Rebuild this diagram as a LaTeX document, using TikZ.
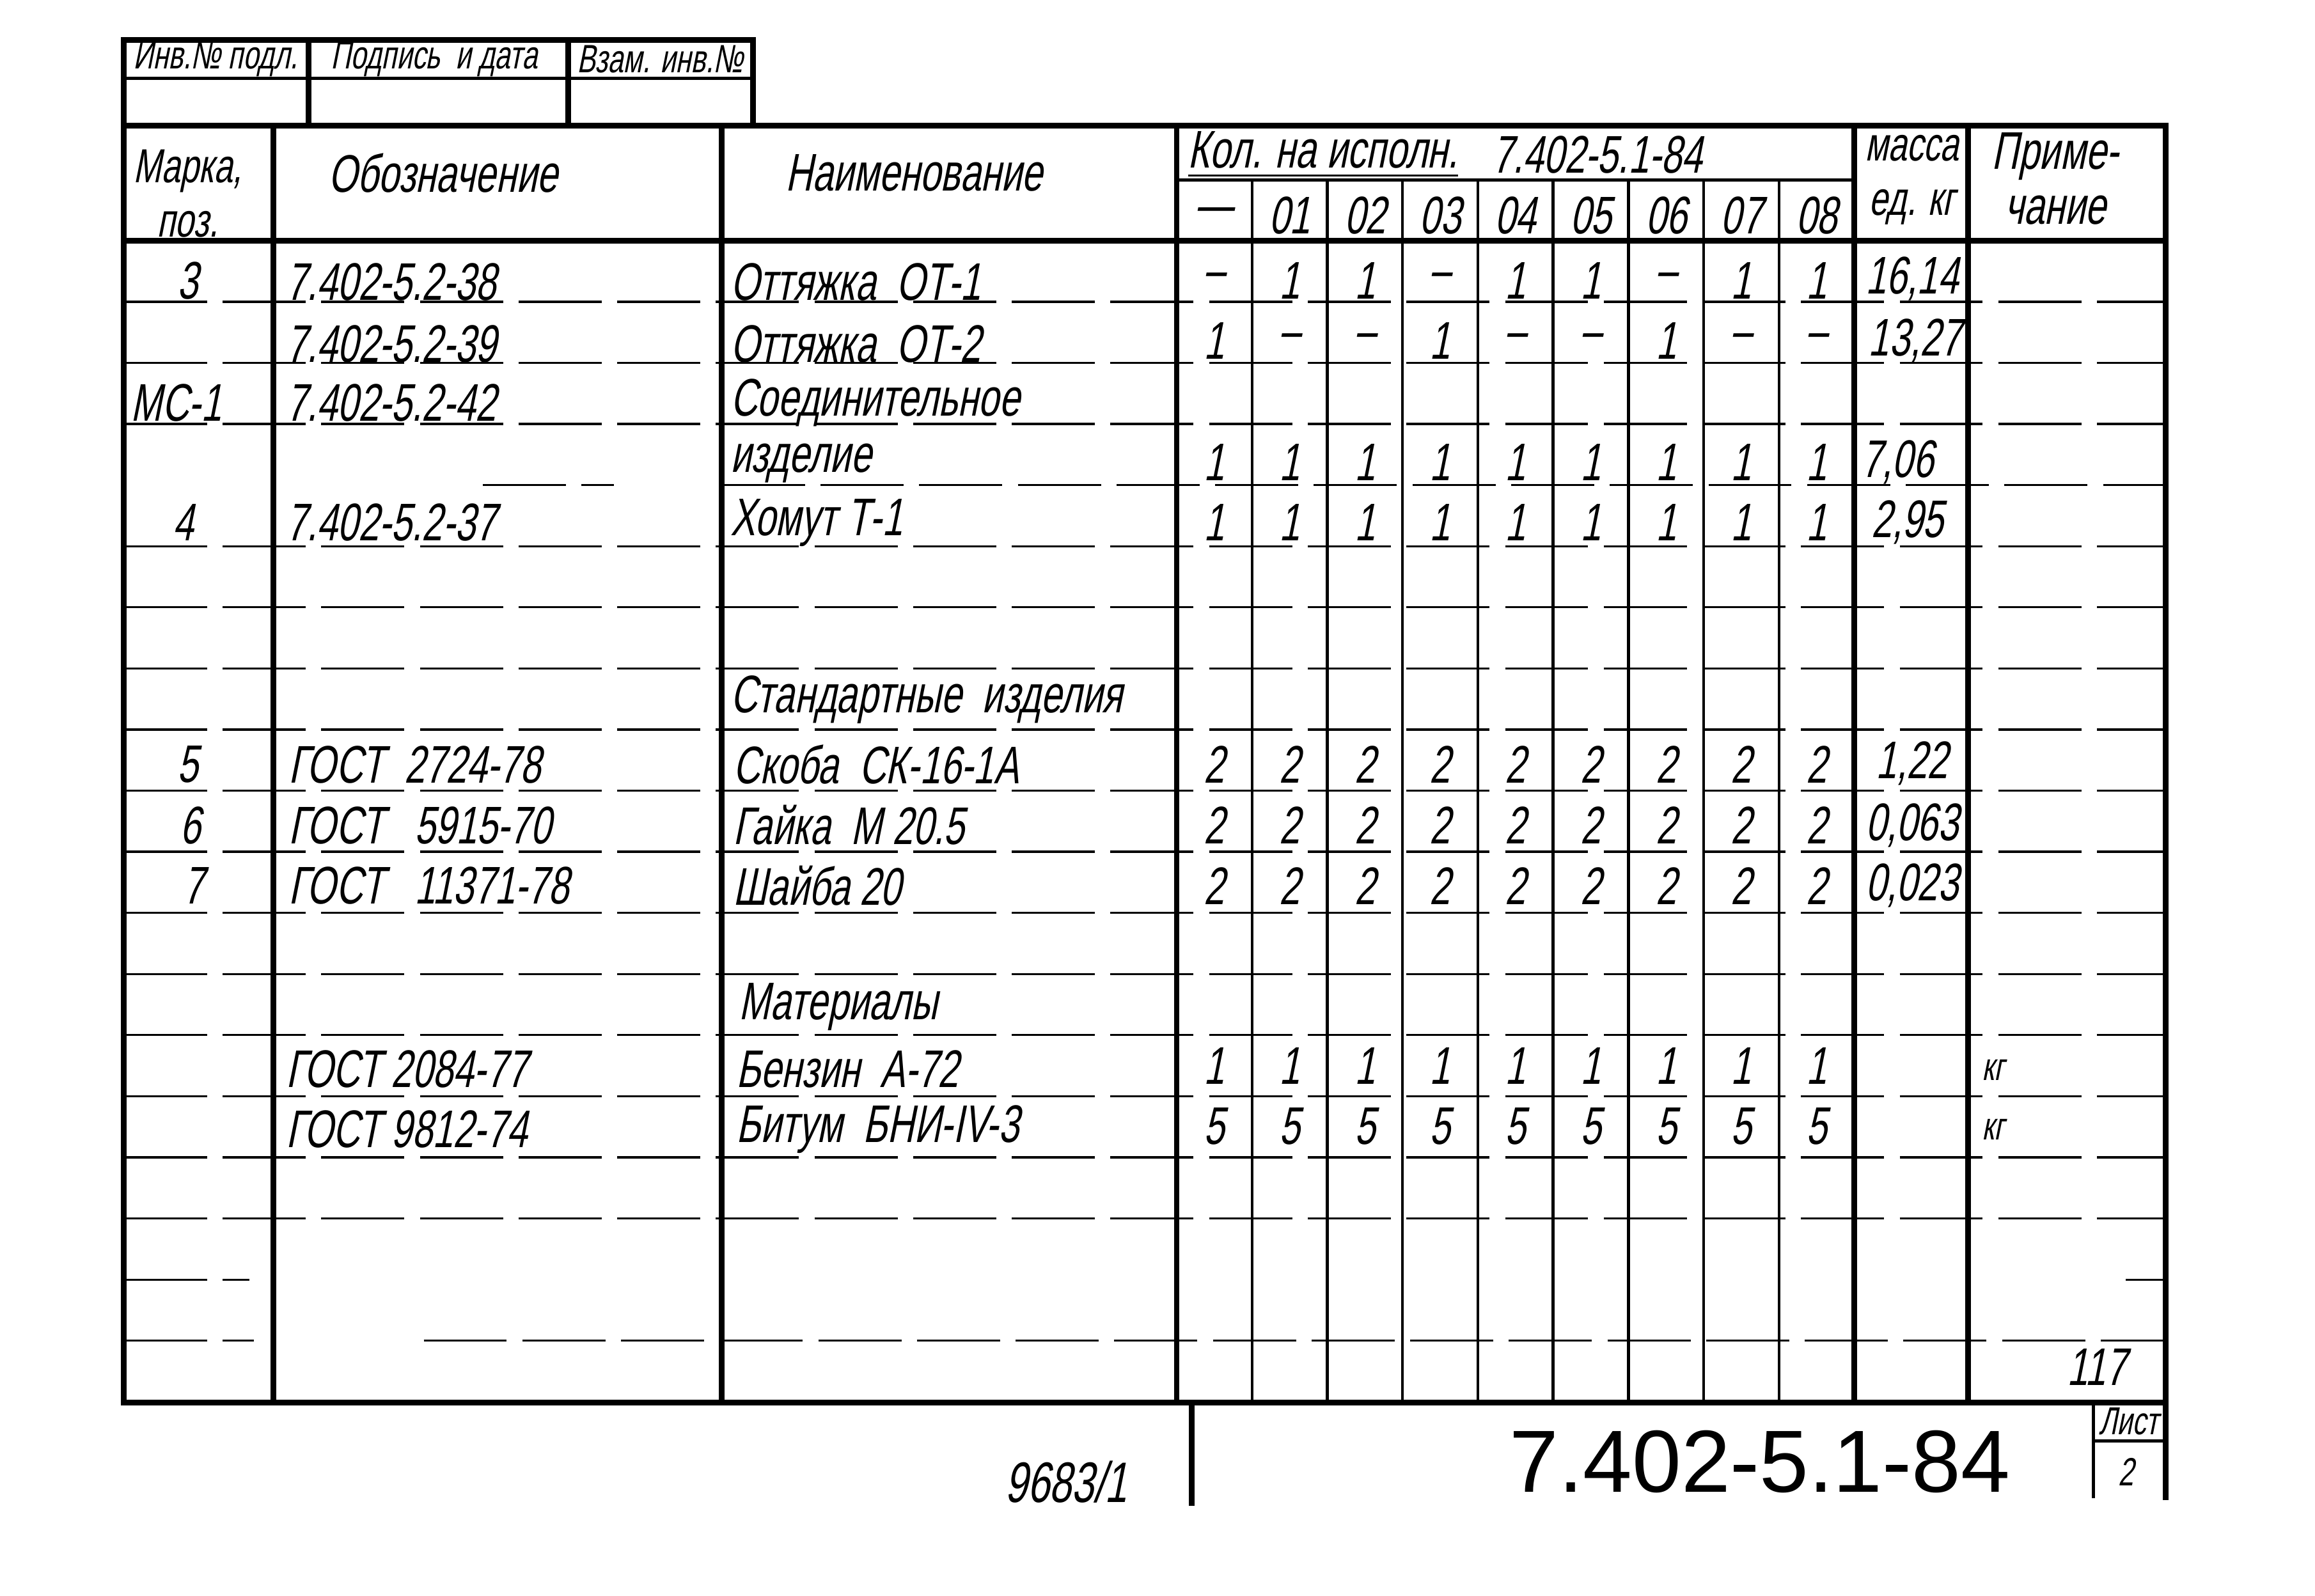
\documentclass[tikz,border=0pt]{standalone}
\usepackage{fontspec}
\setmainfont{Liberation Sans}[FakeStretch=0.7, FakeSlant=0.2]
\newfontfamily\titlefont{Liberation Sans}
\usetikzlibrary{positioning}

\tikzset{
    thickline/.style={line width=1.1pt},
    thinline/.style={line width=0.55pt},
    rowline/.style={line width=0.4pt, dash pattern=on 16pt off 3pt},
    cell/.style={inner sep=0pt, font=\fontsize{10.2}{10.5}\selectfont},
    headsm/.style={inner sep=0pt, font=\fontsize{9.2}{10.5}\selectfont},
    stamp/.style={inner sep=0pt, font=\fontsize{7.6}{8}\selectfont},
    tiny/.style={inner sep=0pt, font=\fontsize{7.5}{8}\selectfont},
}

\newcommand{\qtyrow}[3]{
    \foreach \v [count=\i] in {#3} {
        \node[cell] (#1-\i) at ({771.5+51*\i}, #2) {\v};
    }
}

\begin{document}
\begin{tikzpicture}[x=0.01cm, y=-0.01cm]
    \useasboundingbox (0,0) rectangle (1568,1081);
    \draw[thickline] (84,27) rectangle (510,85);
    \draw[thinline] (84,53) -- (510,53);
    \draw[thickline] (209,27) -- (209,85) (385,27) -- (385,85);
    \node[stamp] (inv) at (146,40) {Инв.№ подл.};
    \node[stamp] (sign) at (294,40) {Подпись~~и дата};
    \node[stamp] (subst) at (447,40) {Взам. инв.№};

    \draw[thickline] (84,85) rectangle (1467,950);
    \draw[thickline] (84,163) -- (1467,163);
    \draw[thickline] (185,85) -- (185,950) (489,85) -- (489,950) (797,85) -- (797,950);
    \draw[thickline] (1256,85) -- (1256,950) (1333,85) -- (1333,950);
    \draw[thinline] (797,122) -- (1256,122);
    \foreach \x in {848,899,...,1205}
        \draw[thinline] (\x,122) -- (\x,950);
    \foreach \k in {1,2,3,5,6,...,16}
        \draw[rowline] (84,{163+41.4*\k}) -- (1467,{163+41.4*\k});
    \draw[rowline] (327,328.6) -- (416,328.6) (489,328.6) -- (1467,328.6);
    \draw[rowline] (84,866.8) -- (169,866.8) (1440,866.8) -- (1467,866.8);
    \draw[rowline] (84,908.2) -- (172,908.2) (287,908.2) -- (1467,908.2);

    \node[headsm, align=center] (hmark) at (127,131) {Марка,\\поз.};
    \node[cell] (hdes) at (300,117) {Обозначение};
    \node[cell] (hname) at (619,117) {Наименование};
    \node[cell, anchor=west] (hqty) at (804,105) {\underline{Кол. на исполн.}};
    \node[cell, anchor=west] (hdoc) at (1010,105) {7.402-5.1-84};
    \qtyrow{hq}{146}{—,01,02,03,04,05,06,07,08}
    \node[headsm, align=center] (hmass) at (1295,122) {масса\\ед. кг};
    \node[cell, align=center] (hnote) at (1392,121) {Приме-\\чание};

    \node[cell] (p3) at (127,190) {3};
    \node[cell, anchor=west] (d38) at (193,191) {7.402-5.2-38};
    \node[cell, anchor=west] (n38) at (494,191) {Оттяжка~~ОТ-1};
    \qtyrow{r1}{190}{–,1,1,–,1,1,–,1,1}
    \node[cell] (w1) at (1295,189) {16,14};

    \node[cell, anchor=west] (d39) at (193,233) {7.402-5.2-39};
    \node[cell, anchor=west] (n39) at (494,233) {Оттяжка~~ОТ-2};
    \qtyrow{r2}{231}{1,–,–,1,–,–,1,–,–}
    \node[cell] (w2) at (1297,231) {13,27};

    \node[cell, anchor=west] (pmc) at (88,273) {МС-1};
    \node[cell, anchor=west] (d42) at (193,273) {7.402-5.2-42};
    \node[cell, anchor=west] (n42) at (494,273) {Соединительное};
    \node[cell, anchor=west] (n42b) at (494,314) {изделие};
    \qtyrow{r4}{313}{1,1,1,1,1,1,1,1,1}
    \node[cell, anchor=west] (w4) at (1260,313) {7,06};

    \node[cell] (p4) at (124,354) {4};
    \node[cell, anchor=west] (d37) at (193,354) {7.402-5.2-37};
    \node[cell, anchor=west] (n37) at (494,354) {Хомут Т-1};
    \qtyrow{r5}{354}{1,1,1,1,1,1,1,1,1}
    \node[cell] (w5) at (1292,354) {2,95};

    \node[cell, anchor=west] (nstd) at (494,474) {Стандартные~~изделия};

    \node[cell] (p5) at (127,518) {5};
    \node[cell, anchor=west] (g5) at (195,518) {ГОСТ~~2724-78};
    \node[cell, anchor=west] (n5) at (496,518) {Скоба~~СК-16-1А};
    \qtyrow{r9}{518}{2,2,2,2,2,2,2,2,2}
    \node[cell] (w9) at (1295,517) {1,22};

    \node[cell] (p6) at (129,559) {6};
    \node[cell, anchor=west] (g6) at (195,559) {ГОСТ~~~5915-70};
    \node[cell, anchor=west] (n6) at (496,559) {Гайка~~М 20.5};
    \qtyrow{r10}{559}{2,2,2,2,2,2,2,2,2}
    \node[cell] (w10) at (1295,559) {0,063};

    \node[cell] (p7) at (131,600) {7};
    \node[cell, anchor=west] (g7) at (195,600) {ГОСТ~~~11371-78};
    \node[cell, anchor=west] (n7) at (496,600) {Шайба 20};
    \qtyrow{r11}{600}{2,2,2,2,2,2,2,2,2}
    \node[cell] (w11) at (1295,600) {0,023};

    \node[cell, anchor=west] (nmat) at (500,682) {Материалы};

    \node[cell, anchor=west] (g14) at (193,724) {ГОСТ 2084-77};
    \node[cell, anchor=west] (n14) at (498,724) {Бензин~~А-72};
    \qtyrow{r14}{722}{1,1,1,1,1,1,1,1,1}
    \node[tiny, anchor=west] (k14) at (1342,725) {кг};

    \node[cell, anchor=west] (g15) at (193,765) {ГОСТ 9812-74};
    \node[cell, anchor=west] (n15) at (498,765) {Битум~~БНИ-IV-3};
    \qtyrow{r15}{763}{5,5,5,5,5,5,5,5,5}
    \node[tiny, anchor=west] (k15) at (1342,765) {кг};

    \node[cell] (page) at (1420,926) {117};

    \draw[thickline] (807,950) -- (807,1020);
    \draw[thickline] (807,950) -- (1467,950) -- (1467,1016);
    \draw[thinline] (1418,950) -- (1418,1015);
    \draw[thinline] (1418,976) -- (1467,976);
    \node[inner sep=0pt, font=\titlefont\fontsize{17}{18}\selectfont] (code) at (1192,990) {7.402-5.1-84};
    \node[tiny] (sheet) at (1442,963) {Лист};
    \node[stamp] (sheetno) at (1440,997) {2};
    \node[inner sep=0pt, font=\fontsize{11}{12}\selectfont] (arch) at (722,1004) {9683/1};
\end{tikzpicture}
\end{document}
